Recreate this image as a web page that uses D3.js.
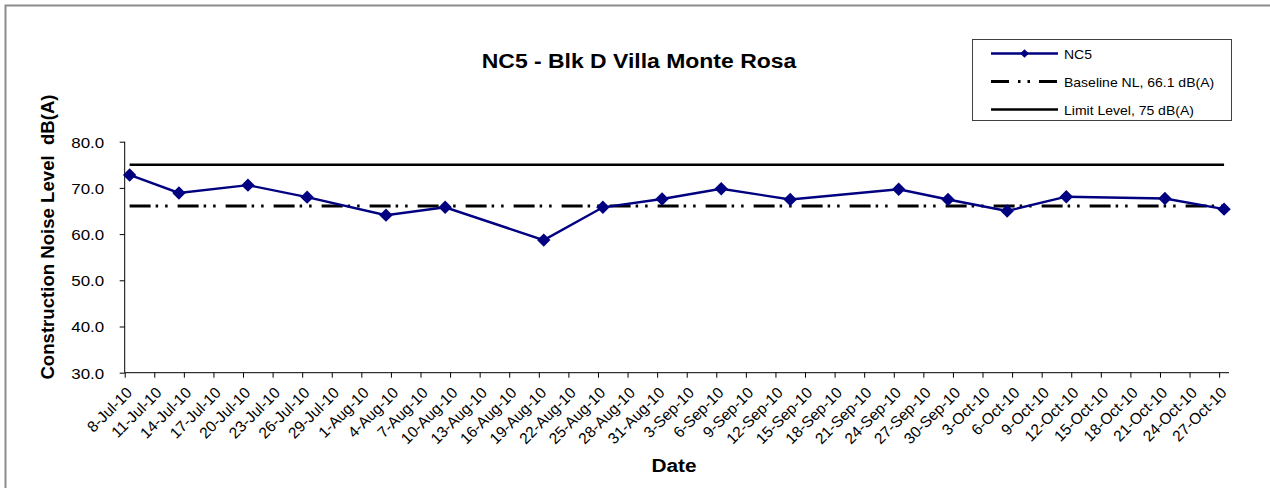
<!DOCTYPE html>
<html>
<head>
<meta charset="utf-8">
<script src="https://cdn.jsdelivr.net/npm/d3@7"></script>
<style>
  html, body { margin: 0; padding: 0; background: #fff; }
  svg { display: block; font-family: "Liberation Sans", Arial, sans-serif; }
</style>
</head>
<body>
<svg id="chart" width="1270" height="488"></svg>
<script>
// ---- data ----
const chartTitle = "NC5 - Blk D Villa Monte Rosa";
const yAxisTitle = "Construction Noise Level  dB(A)";
const xAxisTitle = "Date";
const seriesNames = ["NC5", "Baseline NL, 66.1 dB(A)", "Limit Level, 75 dB(A)"];
const measureDates = ["8-Jul-10","13-Jul-10","20-Jul-10","26-Jul-10","3-Aug-10","9-Aug-10","19-Aug-10","25-Aug-10","31-Aug-10","6-Sep-10","13-Sep-10","24-Sep-10","29-Sep-10","5-Oct-10","11-Oct-10","21-Oct-10","27-Oct-10"];
const nc5Values = [72.8, 68.9, 70.6, 68.0, 64.1, 65.8, 58.7, 65.8, 67.6, 69.8, 67.5, 69.7, 67.5, 65.0, 68.1, 67.7, 65.4];
const baselineLevel = 66.1;
const limitLevel = 75;
const xTickLabels = ["8-Jul-10","11-Jul-10","14-Jul-10","17-Jul-10","20-Jul-10","23-Jul-10","26-Jul-10","29-Jul-10","1-Aug-10","4-Aug-10","7-Aug-10","10-Aug-10","13-Aug-10","16-Aug-10","19-Aug-10","22-Aug-10","25-Aug-10","28-Aug-10","31-Aug-10","3-Sep-10","6-Sep-10","9-Sep-10","12-Sep-10","15-Sep-10","18-Sep-10","21-Sep-10","24-Sep-10","27-Sep-10","30-Sep-10","3-Oct-10","6-Oct-10","9-Oct-10","12-Oct-10","15-Oct-10","18-Oct-10","21-Oct-10","24-Oct-10","27-Oct-10"];
const yTicks = [30, 40, 50, 60, 70, 80];
const xDomain = ["8-Jul-10", "28-Oct-10"];
const yDomain = [30, 80];

// ---- setup ----
(function () {
const parse = d3.utcParse("%d-%b-%y");
const svg = d3.select("#chart");
const pL = 124.7, pR = 1229, pT = 141.7, pB = 372.7;
const SX = 1.12; // horizontal text stretch
const FONT = "Liberation Sans, Arial, sans-serif";
const x = d3.scaleUtc().domain(xDomain.map(parse)).range([pL, pR]);
const y = d3.scaleLinear().domain(yDomain).range([pB, pT]);
const halfDay = (x(parse("9-Jul-10")) - x(parse("8-Jul-10"))) / 2;
const px = d => x(d) + halfDay;

const data = measureDates.map((d, i) => ({ date: parse(d), value: nc5Values[i] }));
const firstDate = data[0].date, lastDate = data[data.length - 1].date;

function addText(parent, tx, ty, str, size, bold, anchor, sx) {
  return parent.append("text")
    .attr("transform", `translate(${tx},${ty}) scale(${sx},1)`)
    .attr("text-anchor", anchor).attr("font-size", size)
    .attr("font-weight", bold ? "bold" : "normal").attr("font-family", FONT)
    .style("white-space", "pre").text(str);
}

// outer frame (left and top edges)
svg.append("path").attr("d", "M5.5,488 V5.5 H1270").attr("fill", "none")
  .attr("stroke", "#8c8c8c").attr("stroke-width", 2);

// title
addText(svg, 639, 68, chartTitle, 20.5, true, "middle", SX);

// axes
const yAxis = d3.axisLeft(y).tickValues(yTicks).tickFormat(d3.format(".1f")).tickSize(5).tickPadding(15);
const gy = svg.append("g").attr("transform", `translate(${pL},0)`).call(yAxis);
gy.select(".domain").attr("d", `M0,${pB}V${pT}`).attr("stroke", "#000");
gy.selectAll("line").attr("stroke", "#000");
gy.selectAll("text")
  .attr("font-size", 15).attr("font-family", FONT).attr("fill", "#000")
  .attr("x", null).attr("dy", null)
  .attr("transform", `translate(-20.5,5.3) scale(1.13,1)`);

const xAxis = d3.axisBottom(x).tickValues(xTickLabels.map(parse)).tickFormat(d3.utcFormat("%-d-%b-%y")).tickSize(5);
const gx = svg.append("g").attr("transform", `translate(0,${pB})`).call(xAxis);
gx.select(".domain").attr("d", `M${pL},0H${pR}`).attr("stroke", "#000");
gx.selectAll("line").attr("stroke", "#000");
gx.selectAll("text")
  .attr("font-size", 15.5).attr("font-family", FONT).attr("fill", "#000")
  .attr("y", null).attr("dy", null)
  .attr("text-anchor", "end")
  .attr("transform", `translate(${halfDay + 3},21) rotate(-45)`);

// axis titles
svg.append("text").attr("transform", `translate(54,237) rotate(-90)`).attr("text-anchor", "middle")
  .attr("font-size", 18.6).attr("font-weight", "bold").attr("font-family", FONT)
  .style("white-space", "pre").text(yAxisTitle);
addText(svg, 674, 472, xAxisTitle, 18.6, true, "middle", SX);

// reference lines
const dashPattern = "21,5,2.5,7,2.5,10";
svg.append("line").attr("x1", px(firstDate)).attr("x2", px(lastDate))
  .attr("y1", y(limitLevel)).attr("y2", y(limitLevel))
  .attr("stroke", "#000").attr("stroke-width", 2.4);
svg.append("line").attr("x1", px(firstDate)).attr("x2", px(lastDate))
  .attr("y1", y(baselineLevel)).attr("y2", y(baselineLevel))
  .attr("stroke", "#000").attr("stroke-width", 3).attr("stroke-dasharray", dashPattern);

// NC5 series
const line = d3.line().x(d => px(d.date)).y(d => y(d.value));
svg.append("path").datum(data).attr("d", line).attr("fill", "none")
  .attr("stroke", "#000080").attr("stroke-width", 2.4);
const diamond = d3.symbol().type(d3.symbolSquare).size(90);
svg.append("g").selectAll("path").data(data).join("path")
  .attr("transform", d => `translate(${px(d.date)},${y(d.value)}) rotate(45)`)
  .attr("d", diamond).attr("fill", "#000080");

// legend
const lg = svg.append("g");
lg.append("rect").attr("x", 972.5).attr("y", 39.5).attr("width", 259).attr("height", 81)
  .attr("fill", "#fff").attr("stroke", "#404040").attr("stroke-width", 1);
const ly = [53.5, 81.5, 109.5];
lg.append("line").attr("x1", 991).attr("x2", 1058).attr("y1", ly[0]).attr("y2", ly[0])
  .attr("stroke", "#000080").attr("stroke-width", 2.4);
lg.append("path").attr("transform", `translate(1024.5,${ly[0]}) rotate(45)`)
  .attr("d", d3.symbol().type(d3.symbolSquare).size(38)).attr("fill", "#000080");
lg.append("line").attr("x1", 991).attr("x2", 1058).attr("y1", ly[1]).attr("y2", ly[1])
  .attr("stroke", "#000").attr("stroke-width", 3).attr("stroke-dasharray", "18,9,2.5,7,2.5,9");
lg.append("line").attr("x1", 991).attr("x2", 1058).attr("y1", ly[2]).attr("y2", ly[2])
  .attr("stroke", "#000").attr("stroke-width", 2.4);
seriesNames.forEach((n, i) => {
  addText(lg, 1064, ly[i] + 5, n, 12.5, false, "start", SX);
});
})();
</script>
</body>
</html>
